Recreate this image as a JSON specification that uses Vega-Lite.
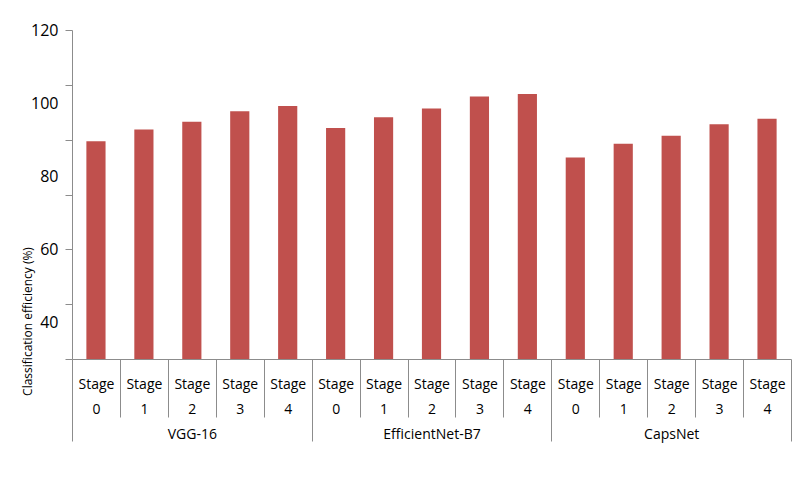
{
  "$schema": "https://vega.github.io/schema/vega-lite/v6.json",
  "width": 719,
  "height": 329,
  "autosize": {"type": "none"},
  "padding": {"left": 72, "top": 30, "right": 9, "bottom": 118},
  "background": "white",
  "config": {"view": {"stroke": null}, "font": "Open Sans"},
  "data": {
    "values": [
      {"key": "VGG-16|0", "efficiency": 89.6},
      {"key": "VGG-16|1", "efficiency": 92.8},
      {"key": "VGG-16|2", "efficiency": 94.9},
      {"key": "VGG-16|3", "efficiency": 97.8},
      {"key": "VGG-16|4", "efficiency": 99.2},
      {"key": "EfficientNet-B7|0", "efficiency": 93.2},
      {"key": "EfficientNet-B7|1", "efficiency": 96.1},
      {"key": "EfficientNet-B7|2", "efficiency": 98.5},
      {"key": "EfficientNet-B7|3", "efficiency": 101.8},
      {"key": "EfficientNet-B7|4", "efficiency": 102.5},
      {"key": "CapsNet|0", "efficiency": 85.1},
      {"key": "CapsNet|1", "efficiency": 88.9},
      {"key": "CapsNet|2", "efficiency": 91.1},
      {"key": "CapsNet|3", "efficiency": 94.2},
      {"key": "CapsNet|4", "efficiency": 95.7}
    ]
  },
  "mark": {"type": "bar", "color": "#C0504D", "width": {"band": 0.4}},
  "encoding": {
    "x": {
      "field": "key",
      "type": "nominal",
      "sort": null,
      "scale": {"paddingInner": 0, "paddingOuter": 0},
      "axis": {
        "title": null,
        "labelAngle": 0,
        "tickBand": "extent",
        "domainColor": "#8c8c8c",
        "tickColor": "#8c8c8c",
        "tickSize": {"condition": {"test": "split(datum.value + '', '|')[1] != '0' && split(datum.value + '', '|')[1] != '1' && split(datum.value + '', '|')[1] != '2' && split(datum.value + '', '|')[1] != '3'", "value": 82}, "value": 58},
        "labelExpr": "split(datum.value + '', '|')[1] == '2' ? ['Stage', '2', split(datum.value + '', '|')[0]] : (split(datum.value + '', '|')[1] == '0' || split(datum.value + '', '|')[1] == '1' || split(datum.value + '', '|')[1] == '3' || split(datum.value + '', '|')[1] == '4') ? ['Stage', split(datum.value + '', '|')[1]] : ''",
        "labelPadding": {"condition": {"test": "split(datum.value + '', '|')[1] != '0' && split(datum.value + '', '|')[1] != '1' && split(datum.value + '', '|')[1] != '2' && split(datum.value + '', '|')[1] != '3'", "value": -64}, "value": -40},
        "labelFontSize": 14,
        "labelColor": "#000000",
        "labelLineHeight": 25,
        "labelOverlap": false,
        "labelBound": false,
        "labelLimit": 200
      }
    },
    "y": {
      "field": "efficiency",
      "type": "quantitative",
      "scale": {"domain": [30, 120], "nice": false, "zero": false},
      "axis": {
        "title": "Classification efficiency (%)",
        "values": [30, 40, 45, 60, 75, 80, 90, 100, 105, 120],
        "labelExpr": "datum.value % 20 == 0 ? datum.label : ''",
        "tickOpacity": {"condition": {"test": "datum.value % 15 == 0", "value": 1}, "value": 0},
        "tickSize": 7,
        "labelPadding": 7,
        "labelFontSize": 16,
        "labelColor": "#000000",
        "grid": false,
        "domainColor": "#8c8c8c",
        "tickColor": "#8c8c8c",
        "titleFontSize": 12,
        "titleFontWeight": "normal",
        "titleColor": "#000000",
        "titleX": -45,
        "titleY": 291,
        "titleAlign": "center",
        "titleBaseline": "middle",
        "titleAngle": 270
      }
    },
    "y2": {"datum": 30}
  }
}
